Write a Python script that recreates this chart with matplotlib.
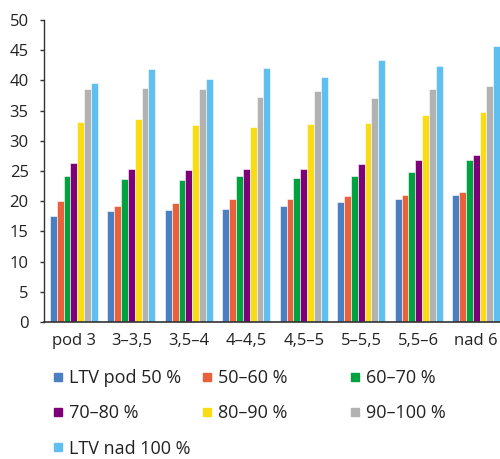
import matplotlib
matplotlib.use("Agg")
import matplotlib.pyplot as plt
import numpy as np
from matplotlib.lines import Line2D

plt.rcParams['font.family'] = ['Open Sans', 'DejaVu Sans']

categories = ["pod 3", "3–3,5", "3,5–4", "4–4,5", "4,5–5", "5–5,5", "5,5–6", "nad 6"]
series_names = ["LTV pod 50 %", "50–60 %", "60–70 %", "70–80 %", "80–90 %", "90–100 %", "LTV nad 100 %"]

ltv_pod_50 = [17.5, 18.4, 18.5, 18.7, 19.2, 19.9, 20.4, 21.0]
ltv_50_60 = [20.0, 19.2, 19.7, 20.4, 20.4, 20.9, 21.0, 21.5]
ltv_60_70 = [24.1, 23.7, 23.5, 24.1, 23.9, 24.1, 24.9, 26.8]
ltv_70_80 = [26.3, 25.4, 25.2, 25.4, 25.3, 26.2, 26.8, 27.6]
ltv_80_90 = [33.1, 33.6, 32.6, 32.3, 32.8, 32.9, 34.2, 34.8]
ltv_90_100 = [38.5, 38.7, 38.5, 37.3, 38.2, 37.1, 38.5, 39.0]
ltv_nad_100 = [39.6, 41.9, 40.2, 42.0, 40.6, 43.3, 42.4, 45.7]

y_ticks = [0, 5, 10, 15, 20, 25, 30, 35, 40, 45, 50]

series = [ltv_pod_50, ltv_50_60, ltv_60_70, ltv_70_80, ltv_80_90, ltv_90_100, ltv_nad_100]
colors = ["#4a7fc1", "#e8603c", "#00a13f", "#7e0078", "#f9dc14", "#b2b2b2", "#5fc0f0"]

fig = plt.figure(figsize=(5.0, 4.59), dpi=100)
ax = fig.add_axes([0.088, 0.2985, 0.924, 0.658])

x = np.arange(len(categories))
n = len(series)
bw = 0.119
for i, (vals, c) in enumerate(zip(series, colors)):
    offs = (i - (n - 1) / 2) * bw
    ax.bar(x + offs, vals, width=bw, color=c, edgecolor="white", linewidth=0.4)

ax.set_xlim(-0.52, len(categories) - 0.48)
ax.set_ylim(0, 50)
ax.set_yticks(y_ticks)
ax.set_xticks(x)
ax.set_xticklabels(categories)

for s in ("top", "right"):
    ax.spines[s].set_visible(False)
ax.spines["left"].set_color("#333333")
ax.spines["bottom"].set_color("#333333")
ax.spines["left"].set_linewidth(1.0)
ax.spines["bottom"].set_linewidth(1.2)

ax.tick_params(axis="y", length=3, width=1, color="#333333", pad=8, labelsize=12, labelcolor="#222222")
ax.tick_params(axis="x", length=0, pad=8, labelsize=12, labelcolor="#222222")

handles = [Line2D([], [], marker="s", linestyle="none", markersize=5.4,
                  markerfacecolor=c, markeredgecolor=c) for c in colors]

columns = [[0, 3, 6], [1, 4], [2, 5]]
col_x = [0.106, 0.403, 0.700]
for cx, idxs in zip(col_x, columns):
    fig.legend([handles[i] for i in idxs], [series_names[i] for i in idxs],
               loc="upper left", bbox_to_anchor=(cx, 0.196), frameon=False,
               fontsize=13, handlelength=0.6, handletextpad=0.3,
               labelspacing=0.96, borderpad=0, borderaxespad=0,
               labelcolor="#222222")

fig.savefig("out.png", dpi=100)
